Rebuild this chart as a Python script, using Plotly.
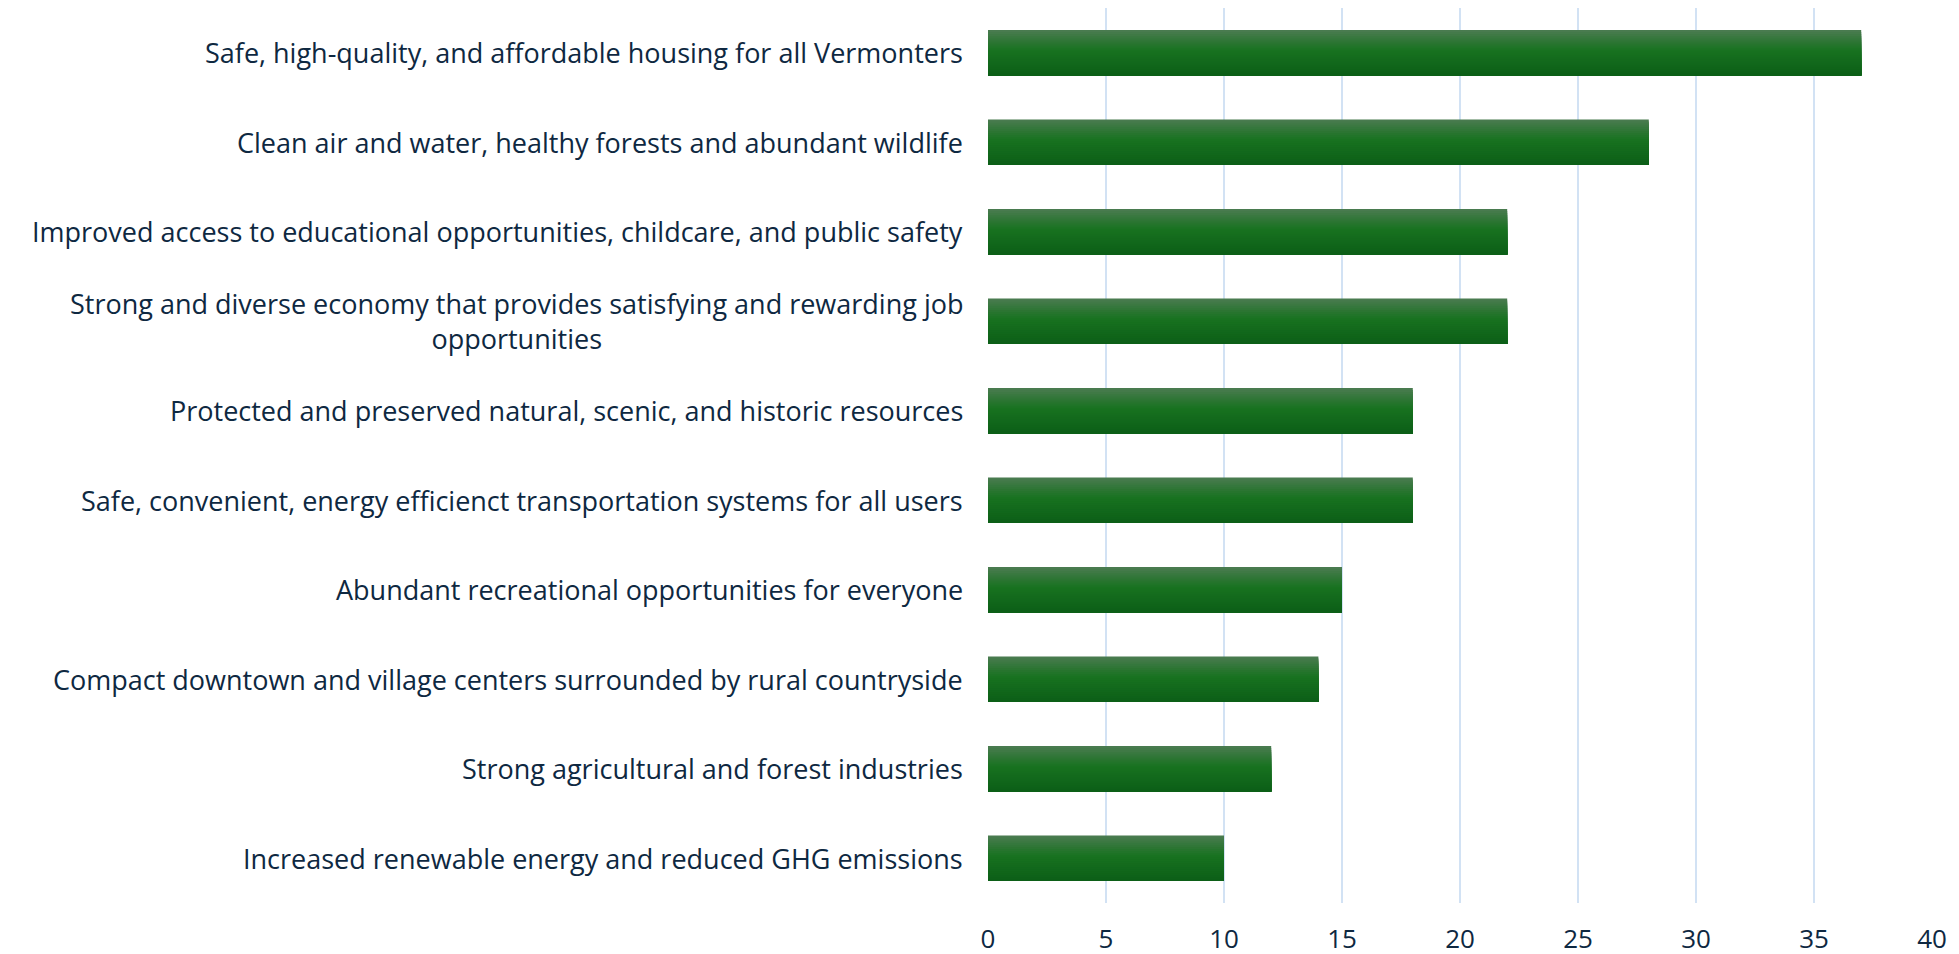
import plotly.graph_objects as go

# Datos
categorias = [
    "Safe, high-quality, and affordable housing for all Vermonters",
    "Clean air and water, healthy forests and abundant wildlife",
    "Improved access to educational opportunities, childcare, and public safety",
    "Strong and diverse economy that provides satisfying and rewarding job<br>opportunities",
    "Protected and preserved natural, scenic, and historic resources",
    "Safe, convenient, energy efficienct transportation systems for all users",
    "Abundant recreational opportunities for everyone",
    "Compact downtown and village centers surrounded by rural countryside",
    "Strong agricultural and forest industries",
    "Increased renewable energy and reduced GHG emissions",
]
valores = [37, 28, 22, 22, 18, 18, 15, 14, 12, 10]
marcas_x = [0, 5, 10, 15, 20, 25, 30, 35, 40]

TEXT_COLOR = "#0E2841"
GRID_COLOR = "#D2E2F4"
FONT = "Open Sans"

# Degradado vertical de las barras (arriba -> abajo)
STOPS = [(0.0, (0x4B, 0x7B, 0x51)), (0.45, (0x18, 0x72, 0x20)), (1.0, (0x0C, 0x5E, 0x17))]
N_STRIPS = 23
BAR_FRAC = 0.51


def color_en(t):
    for (t0, c0), (t1, c1) in zip(STOPS[:-1], STOPS[1:]):
        if t <= t1:
            f = (t - t0) / (t1 - t0)
            return "rgb({},{},{})".format(*[round(a + (b - a) * f) for a, b in zip(c0, c1)])
    return "rgb({},{},{})".format(*STOPS[-1][1])


fig = go.Figure()

# Cada franja va desde su posición hasta el fondo de la barra, así no quedan costuras.
paso = BAR_FRAC / N_STRIPS
for i in range(N_STRIPS):
    fig.add_trace(
        go.Bar(
            x=valores,
            y=categorias,
            orientation="h",
            width=BAR_FRAC - i * paso,
            offset=-BAR_FRAC / 2 + i * paso,
            marker_color=color_en((i + 0.5) / N_STRIPS),
            marker_line_width=0,
            hoverinfo="x+y",
            showlegend=False,
        )
    )

# Etiquetas de categoría como anotaciones para centrar las líneas
for cat in categorias:
    fig.add_annotation(
        x=0,
        xref="paper",
        y=cat,
        yref="y",
        xanchor="right",
        yanchor="middle",
        xshift=-23,
        align="center",
        text=cat,
        showarrow=False,
        font=dict(family=FONT, size=27, color=TEXT_COLOR),
    )

fig.update_xaxes(
    range=[0, 40],
    tickvals=marcas_x,
    showgrid=True,
    gridcolor=GRID_COLOR,
    gridwidth=2,
    zeroline=False,
    showline=False,
    ticks="",
    ticklabelstandoff=18,
    tickfont=dict(family=FONT, size=26, color=TEXT_COLOR),
    automargin=False,
    fixedrange=True,
)

fig.update_yaxes(
    autorange="reversed",
    showticklabels=False,
    showgrid=False,
    zeroline=False,
    showline=False,
    ticks="",
    automargin=False,
    fixedrange=True,
)

fig.update_layout(
    template="none",
    barmode="overlay",
    width=1951,
    height=946,
    margin=dict(l=980, r=27, t=0, b=51),
    paper_bgcolor="#FFFFFF",
    plot_bgcolor="#FFFFFF",
    font=dict(family=FONT, color=TEXT_COLOR),
)

fig.write_html("out.html")
